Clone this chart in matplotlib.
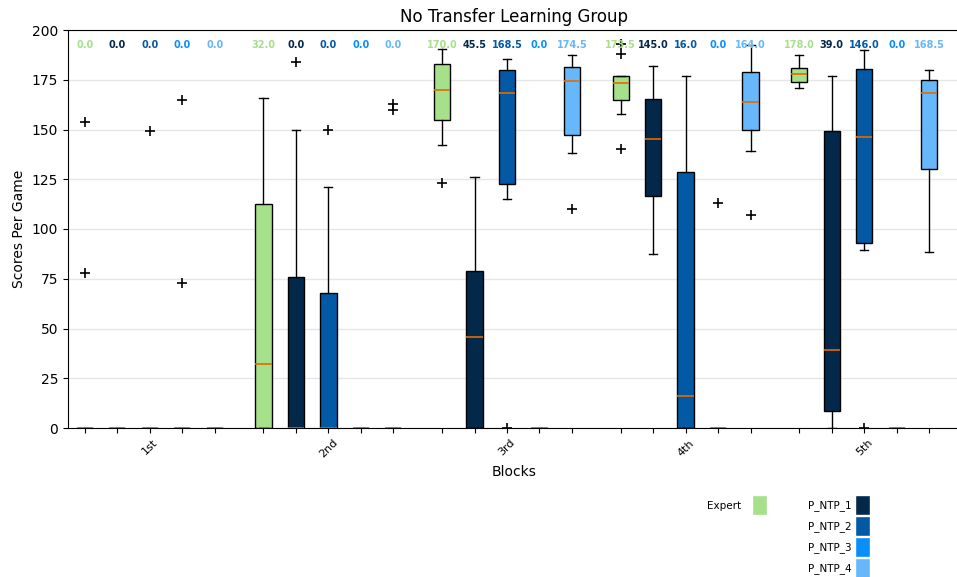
import matplotlib
matplotlib.use("Agg")
import matplotlib.pyplot as plt
from matplotlib.patches import Patch

# ---- data -------------------------------------------------------------
blocks = ["1st", "2nd", "3rd", "4th", "5th"]
series = ["Expert", "P_NTP_1", "P_NTP_2", "P_NTP_3", "P_NTP_4"]
colors = ["#a6e08a", "#03284a", "#0359a3", "#0a8ffa", "#66b8fa"]

# per block, per series: box statistics (scores per game)
medians = [
    [0.0, 0.0, 0.0, 0.0, 0.0],
    [32.0, 0.0, 0.0, 0.0, 0.0],
    [170.0, 45.5, 168.5, 0.0, 174.5],
    [173.5, 145.0, 16.0, 0.0, 164.0],
    [178.0, 39.0, 146.0, 0.0, 168.5],
]
q1 = [
    [0, 0, 0, 0, 0],
    [0, 0, 0, 0, 0],
    [155.0, 0, 122.5, 0, 147.0],
    [165.0, 116.5, 0, 0, 149.5],
    [174.0, 8.5, 93.0, 0, 130.0],
]
q3 = [
    [0, 0, 0, 0, 0],
    [112.5, 76.0, 68.0, 0, 0],
    [183.0, 79.0, 180.0, 0, 181.5],
    [177.0, 165.5, 128.5, 0, 179.0],
    [181.0, 149.0, 180.5, 0, 175.0],
]
whisker_low = [
    [0, 0, 0, 0, 0],
    [0, 0, 0, 0, 0],
    [142.0, 0, 115.0, 0, 138.0],
    [158.0, 87.5, 0, 0, 139.0],
    [171.0, 0, 89.5, 0, 88.5],
]
whisker_high = [
    [0, 0, 0, 0, 0],
    [166.0, 149.5, 121.0, 0, 0],
    [190.5, 126.0, 185.5, 0, 187.5],
    [177.0, 182.0, 177.0, 0, 192.5],
    [187.5, 177.0, 190.0, 0, 180.0],
]
outliers = [
    [[154, 78], [], [149], [165, 73], []],
    [[], [184], [150], [], [163, 160]],
    [[123], [], [0], [], [110]],
    [[193, 188, 140], [], [], [113], [107]],
    [[], [], [0], [], []],
]

# ---- layout -----------------------------------------------------------
group_step = 5.5
box_width = 0.5

fig = plt.figure(figsize=(9.57, 5.77), dpi=100)
ax = fig.add_axes([68 / 957, 1 - 428 / 577, (960 - 68) / 957, (428 - 30) / 577])

ax.spines["right"].set_visible(False)
ax.set_axisbelow(True)
ax.yaxis.grid(True, color="#e6e6e6", linewidth=1)

positions_all = []
for g, block in enumerate(blocks):
    for k, name in enumerate(series):
        pos = g * group_step + k
        positions_all.append(pos)
        stats = [{
            "med": medians[g][k],
            "q1": q1[g][k],
            "q3": q3[g][k],
            "whislo": whisker_low[g][k],
            "whishi": whisker_high[g][k],
            "fliers": outliers[g][k],
        }]
        ax.bxp(
            stats,
            positions=[pos],
            widths=box_width,
            patch_artist=True,
            showfliers=True,
            manage_ticks=False,
            boxprops=dict(facecolor=colors[k], edgecolor="black", linewidth=1),
            medianprops=dict(color="#e06c00", linewidth=1.2),
            whiskerprops=dict(color="black", linewidth=1),
            capprops=dict(color="black", linewidth=1),
            flierprops=dict(marker="+", markeredgecolor="black", markersize=7,
                            markeredgewidth=1.2),
        )
        ax.text(pos, 192.5, f"{medians[g][k]:.1f}", ha="center", va="center",
                fontsize=7, fontweight="bold", color=colors[k])

ax.set_xlim(-0.52, 26.95)
ax.set_ylim(0, 200)
ax.set_yticks(range(0, 201, 25))
ax.tick_params(axis="y", labelsize=10)

ax.set_xticks(positions_all)
tick_labels = []
for g in range(len(blocks)):
    for k in range(len(series)):
        tick_labels.append(blocks[g] if k == 2 else "")
ax.set_xticklabels(tick_labels, rotation=45, fontsize=8)

ax.set_title("No Transfer Learning Group", fontsize=12)
ax.set_xlabel("Blocks", fontsize=10)
ax.set_ylabel("Scores Per Game", fontsize=10)

# ---- legends ----------------------------------------------------------
expert_handle = [Patch(facecolor=colors[0], edgecolor="white", label=series[0])]
ntp_handles = [Patch(facecolor=c, edgecolor="white", label=s)
               for c, s in zip(colors[1:], series[1:])]

legend_kw = dict(loc="upper left", frameon=False, markerfirst=False,
                 fontsize=7.5, handlelength=1.45, handleheight=2.6,
                 labelspacing=0.08, borderpad=0.2)
fig.legend(handles=expert_handle, bbox_to_anchor=(700 / 957, 1 - 488 / 577),
           handletextpad=1.0, **legend_kw)
fig.legend(handles=ntp_handles, bbox_to_anchor=(801 / 957, 1 - 488 / 577),
           handletextpad=0.3, **legend_kw)

fig.savefig("out.png", dpi=100)
